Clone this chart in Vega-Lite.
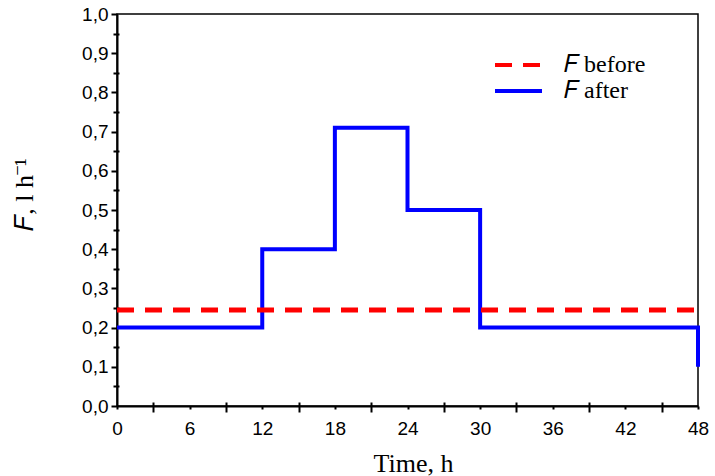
{
  "$schema": "https://vega.github.io/schema/vega-lite/v6.json",
  "width": 581,
  "height": 392,
  "autosize": {"type": "none"},
  "padding": {"left": 117, "top": 14, "right": 17, "bottom": 70},
  "background": "white",
  "config": {
    "view": {"stroke": "black", "strokeWidth": 1.5},
    "axis": {
      "grid": false,
      "domainColor": "black",
      "domainWidth": 2,
      "tickColor": "black",
      "tickWidth": 2,
      "labelColor": "black",
      "titleColor": "black",
      "labelFont": "Liberation Sans",
      "labelFontSize": 19,
      "titleFont": "Liberation Serif",
      "titleFontSize": 26,
      "titleFontWeight": "normal"
    },
    "legend": {
      "orient": "none",
      "legendX": 376,
      "legendY": 38,
      "symbolType": "stroke",
      "symbolSize": 2209,
      "symbolStrokeWidth": 4,
      "labelFont": "Liberation Serif",
      "labelFontSize": 24,
      "labelColor": "black",
      "labelOffset": 20,
      "rowPadding": 0,
      "clipHeight": 26,
      "title": null
    }
  },
  "data": {
    "values": [
      {"series": "F after", "i": 0, "t": 0, "F": 0.2},
      {"series": "F after", "i": 1, "t": 12, "F": 0.2},
      {"series": "F after", "i": 2, "t": 12, "F": 0.4},
      {"series": "F after", "i": 3, "t": 18, "F": 0.4},
      {"series": "F after", "i": 4, "t": 18, "F": 0.71},
      {"series": "F after", "i": 5, "t": 24, "F": 0.71},
      {"series": "F after", "i": 6, "t": 24, "F": 0.5},
      {"series": "F after", "i": 7, "t": 30, "F": 0.5},
      {"series": "F after", "i": 8, "t": 30, "F": 0.2},
      {"series": "F after", "i": 9, "t": 48, "F": 0.2},
      {"series": "F after", "i": 10, "t": 48, "F": 0.1},
      {"series": "F before", "i": 0, "t": 0, "F": 0.245},
      {"series": "F before", "i": 1, "t": 48, "F": 0.245}
    ]
  },
  "resolve": {"axis": {"x": "independent", "y": "independent"}},
  "layer": [
    {
      "transform": [{"filter": "datum.series === 'F after'"}],
      "mark": {"type": "line", "strokeWidth": 4},
      "encoding": {
        "x": {
          "field": "t", "type": "quantitative",
          "scale": {"domain": [0, 48], "nice": false, "zero": false},
          "axis": {
            "orient": "bottom",
            "values": [0, 6, 12, 18, 24, 30, 36, 42, 48],
            "tickSize": 3,
            "labelPadding": 10,
            "labelFlush": false,
            "labelOverlap": false,
            "title": "Time, h",
            "titleX": 296,
            "titlePadding": 12
          }
        },
        "y": {
          "field": "F", "type": "quantitative",
          "scale": {"domain": [0, 1], "nice": false},
          "axis": {
            "orient": "left",
            "values": [0, 0.1, 0.2, 0.3, 0.4, 0.5, 0.6, 0.7, 0.8, 0.9, 1.0],
            "labelExpr": "replace(format(datum.value, '.1f'), '.', ',')",
            "tickSize": 6,
            "labelPadding": 3,
            "labelFlush": false,
            "labelOverlap": false,
            "title": "𝐹, l h⁻¹",
            "titleY": 180,
            "titlePadding": 44
          }
        },
        "order": {"field": "i", "type": "quantitative"},
        "color": {
          "field": "series", "type": "nominal",
          "scale": {"domain": ["F before", "F after"], "range": ["#ff0000", "#0000ff"]},
          "legend": {"labelExpr": "replace(datum.label, 'F', '𝐹')"}
        },
        "strokeDash": {
          "field": "series", "type": "nominal",
          "scale": {"domain": ["F before", "F after"], "range": [[17, 11], [1, 0]]}
        }
      }
    },
    {
      "transform": [{"filter": "datum.series === 'F before'"}],
      "mark": {"type": "line", "strokeWidth": 5},
      "encoding": {
        "x": {
          "field": "t", "type": "quantitative",
          "scale": {"domain": [0, 48], "nice": false, "zero": false},
          "axis": {
            "orient": "bottom",
            "values": [3, 9, 15, 21, 27, 33, 39, 45],
            "tickSize": 10,
            "offset": -4,
            "labels": false,
            "domain": false,
            "title": null
          }
        },
        "y": {
          "field": "F", "type": "quantitative",
          "scale": {"domain": [0, 1], "nice": false},
          "axis": {
            "orient": "left",
            "values": [0.05, 0.15, 0.25, 0.35, 0.45, 0.55, 0.65, 0.75, 0.85, 0.95],
            "tickSize": 6,
            "offset": -2,
            "labels": false,
            "domain": false,
            "title": null
          }
        },
        "order": {"field": "i", "type": "quantitative"},
        "color": {
          "field": "series", "type": "nominal",
          "scale": {"domain": ["F before", "F after"], "range": ["#ff0000", "#0000ff"]}
        },
        "strokeDash": {
          "field": "series", "type": "nominal",
          "scale": {"domain": ["F before", "F after"], "range": [[17, 11], [1, 0]]}
        }
      }
    }
  ]
}
